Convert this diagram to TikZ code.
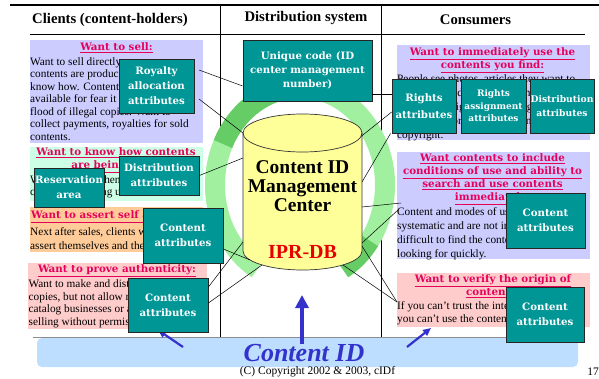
\documentclass[tikz,border=0pt]{standalone}
\usepackage{fontspec}
\setmainfont{Liberation Serif}
\newfontfamily\boxfamily{DejaVu Serif}
\usetikzlibrary{arrows.meta}

\definecolor{panelblue}{RGB}{204,204,255}
\definecolor{panelmint}{RGB}{204,255,230}
\definecolor{panelpeach}{RGB}{255,204,153}
\definecolor{panelpink}{RGB}{255,204,204}
\definecolor{wantred}{RGB}{230,0,90}
\definecolor{attrteal}{RGB}{0,150,150}
\definecolor{ringlight}{RGB}{160,240,160}
\definecolor{ringdark}{RGB}{102,204,102}
\definecolor{dbyellow}{RGB}{255,255,153}
\definecolor{bandblue}{RGB}{190,222,255}
\definecolor{idblue}{RGB}{51,51,204}
\definecolor{iprred}{RGB}{230,0,0}

\tikzset{
  attrbox/.style={draw=black!85, line width=0.8pt, fill=attrteal, text=white,
    align=center, inner sep=0.5pt, minimum width=80pt, minimum height=55pt,
    font=\boxfamily\bfseries\fontsize{10.2}{15}\selectfont},
  wanthead/.style={text=wantred, align=center, inner sep=0pt,
    font=\boxfamily\bfseries\fontsize{10.3}{13}\selectfont},
  wantbody/.style={anchor=north west, align=left, inner sep=0pt,
    font=\fontsize{11.3}{#1}\selectfont},
  wantbody/.default=12.5,
  colhead/.style={inner sep=0pt, font=\bfseries\fontsize{14.7}{16}\selectfont},
  link/.style={line width=0.5pt},
  ring/.style={line width=20pt},
  idarrow/.style={draw=idblue, line width=2.2pt, -{Triangle[width=7pt,length=8pt]}},
}

\begin{document}
\begin{tikzpicture}[x=1pt, y=-1pt]
        \useasboundingbox (0,0) rectangle (599,379);

        % Coloured panels.
        \fill[panelblue] (30,40) rectangle (203,143);
        \fill[panelmint] (30,147) rectangle (203,201);
        \fill[panelpeach] (30,207) rectangle (203,252);
        \fill[panelpink] (28,263) rectangle (207,329);
        \fill[panelblue] (397,45) rectangle (590,140);
        \fill[panelblue] (397,152) rectangle (590,259);
        \fill[panelpink] (397,273) rectangle (590,327);

        % Table rules.
        \draw[line width=1.4pt] (10,5) -- (599,5);
        \draw[line width=0.7pt] (30,34) -- (585,34);
        \draw[line width=0.7pt] (220,5) -- (220,337);
        \draw[line width=0.7pt] (381,5) -- (381,337);
        \draw[line width=0.8pt, black!45] (33,337) -- (585,337);

        % Column heads.
        \node[colhead] (clients) at (110,20) {Clients (content-holders)};
        \node[colhead] (distsys) at (306,18) {Distribution system};
        \node[colhead] (consumers) at (475.5,20) {Consumers};

        % Panel texts.
        \node[wanthead] (sellhead) at (116.5,48) {\underline{Want to sell:}};
        \node[wantbody] (sellbody) at (30,57.3) {Want to sell directly, as some\\contents are produced with special\\know how. Contents are not made\\available for fear it will lead to a\\flood of illegal copies. Want to\\collect payments, royalties for sold\\contents.};
        \node[wanthead, anchor=north] (knowhead) at (116,147.5) {\underline{Want to know how contents}\\\underline{are being used:}};
        \node[wantbody] (knowbody) at (30,175.3) {Want to know when, where and how\\contents are being used.};
        \node[wanthead, anchor=west] (asserthead) at (31,217) {\underline{Want to assert self appeal:}};
        \node[wantbody=14] (assertbody) at (30,227.3) {Next after sales, clients want to\\assert themselves and their works.};
        \node[wanthead] (provehead) at (117,271) {\underline{Want to prove authenticity:}};
        \node[wantbody=12.8] (provebody) at (28.5,279.3) {Want to make and distribute\\copies, but not allow mail-order\\catalog businesses or auctions\\selling without permission.};
        \node[wanthead, anchor=north] (usehead) at (492.5,47.5) {\underline{Want to immediately use the}\\\underline{contents you find:}};
        \node[wantbody=14] (usebody) at (397,74.3) {People see photos, articles they want to\\use, but they do not know where to\\find out the rights or how to get\\permission, or are afraid of infringing\\copyright.};
        \node[wanthead, anchor=north] (termshead) at (492.5,153.5) {\underline{Want contents to include}\\\underline{conditions of use and ability to}\\\underline{search and use contents}\\\underline{immediately:}};
        \node[wantbody=14] (termsbody) at (397,207.3) {Content and modes of use are not\\systematic and are not indexed. It is\\difficult to find the contents you are\\looking for quickly.};
        \node[wanthead, anchor=north] (verifyhead) at (493,274.5) {\underline{Want to verify the origin of}\\\underline{contents:}};
        \node[wantbody=13] (verifybody) at (397,301.3) {If you can't trust the integrity of contents,\\you can't use the contents.};

        % Cycle round the center.
        \coordinate (ringc) at (300,185);
        \draw[ring, ringlight] (ringc) ++(60:85 and 97) arc[start angle=60, end angle=-240, x radius=85, y radius=97];
        \draw[ring, ringdark] (ringc) ++(-105:85 and 97) arc[start angle=-105, end angle=-155, x radius=85, y radius=97];
        \draw[ring, ringdark] (ringc) ++(35:85 and 97) arc[start angle=35, end angle=60, x radius=85, y radius=97];

        % Content ID band and arrows.
        \fill[bandblue, rounded corners=5pt] (37,338) rectangle (578,367);
        \draw[idarrow, line width=4pt, -{Triangle[width=13pt,length=13pt]}] (302,344) coordinate (bandtop) -- (302,295) coordinate (arrowtip);
        \draw[idarrow] (183,347) coordinate (bandleft) -- (158,330) coordinate (leftend);
        \draw[idarrow] (407,347) coordinate (bandright) -- (431,328) coordinate (rightend);

        % Attribute boxes.
        \node[attrbox, minimum width=129pt, minimum height=61pt, font=\boxfamily\bfseries\fontsize{10.2}{14}\selectfont] (uniq) at (307.5,70.5) {Unique code (ID\\center management\\number)};
        \node[attrbox, minimum width=75pt, minimum height=54pt] (royal) at (156.5,86) {Royalty\\allocation\\attributes};
        \node[attrbox, minimum height=39pt] (distL) at (159,175.5) {Distribution\\attributes};
        \node[attrbox, minimum width=70pt, minimum height=39pt] (resv) at (69,187.5) {Reservation\\area};
        \node[attrbox] (contL1) at (183,235.5) {Content\\attributes};
        \node[attrbox, minimum height=54pt] (contL2) at (168,305) {Content\\attributes};
        \node[attrbox, minimum width=64pt, minimum height=54pt, font=\boxfamily\bfseries\fontsize{10.2}{17}\selectfont] (rights) at (424,106) {Rights\\attributes};
        \node[attrbox, minimum width=65pt, minimum height=54pt, font=\boxfamily\bfseries\fontsize{9}{12.5}\selectfont] (assign) at (493.5,106) {Rights\\assignment\\attributes};
        \node[attrbox, minimum width=64pt, minimum height=54pt, font=\boxfamily\bfseries\fontsize{9.2}{14}\selectfont] (distR) at (562,106) {Distribution\\attributes};
        \node[attrbox, minimum width=79pt] (contR1) at (545.5,220.5) {Content\\attributes};
        \node[attrbox, minimum width=78pt] (contR2) at (545,314.5) {Content\\attributes};

        % Database cylinder.
        \filldraw[fill=dbyellow, draw=black!80, line width=0.7pt] (243,133) -- (243,251) arc[start angle=180, end angle=0, x radius=59.5, y radius=19] -- (362,133) arc[start angle=0, end angle=-180, x radius=59.5, y radius=19] -- cycle;
        \draw[black!80, line width=0.7pt] (243,133) arc[start angle=180, end angle=0, x radius=59.5, y radius=19];
        \node[align=center, inner sep=0pt, font=\bfseries\fontsize{19.5}{19}\selectfont] (db) at (302.5,186) {Content ID\\Management\\Center};
        \node[text=iprred, inner sep=0pt, font=\bfseries\fontsize{20}{20}\selectfont] (ipr) at (302.5,252) {IPR-DB};

        % Points on the cylinder and the panels.
        \coordinate (dbnw) at (243,133);
        \coordinate (dbw1) at (243,158);
        \coordinate (dbw2) at (243,242);
        \coordinate (dbs1) at (250,260);
        \coordinate (dbs2) at (262,265);
        \coordinate (dbs3) at (343,265);
        \coordinate (dbe1) at (361,136.5);
        \coordinate (dbe2) at (362,182);
        \coordinate (dbe3) at (362,207);
        \coordinate (dbe4) at (362,243);
        \coordinate (dbe5) at (362,246);
        \coordinate (sellR1) at (199,70);
        \coordinate (sellR2) at (199,99);
        \coordinate (termsA) at (401,203);
        \coordinate (termsB) at (398,210);
        \coordinate (verifyA) at (397,302);

        % Connectors.
        \draw[link] (sellR1) -- ([yshift=-15.5pt]uniq.west);
        \draw[link] (sellR2) -- (dbnw);
        \draw[link] (distL.east) -- (dbw1);
        \draw[link] ([yshift=-13.5pt]contL1.east) -- (dbs1);
        \draw[link] ([yshift=18pt]contL2.east) -- (dbw2);
        \draw[link] ([yshift=2pt]contL2.east) -- (dbs2);
        \draw[link] ([yshift=-23.5pt]uniq.east) -- ([yshift=12pt]rights.west);
        \draw[link] ([yshift=-6pt]rights.west) -- (dbe1);
        \draw[link] ([xshift=-1pt]rights.south west) -- (dbe2);
        \draw[link] (dbe3) -- (termsA);
        \draw[link] (dbe4) -- (termsB);
        \draw[link] (dbe5) -- (verifyA);
        \draw[link] (dbs3) -- (verifyA);

        % Band text and footer.
        \node[text=idblue, inner sep=0pt, font=\bfseries\itshape\fontsize{26}{26}\selectfont] (cid) at (304,353) {Content ID};
        \node[inner sep=0pt, font=\fontsize{11.5}{12}\selectfont] (copy) at (317.5,372) {(C) Copyright 2002 \& 2003, cIDf};
        \node[inner sep=0pt, font=\fontsize{11.5}{12}\selectfont] (page) at (593,372) {17};
    \end{tikzpicture}
\end{document}
